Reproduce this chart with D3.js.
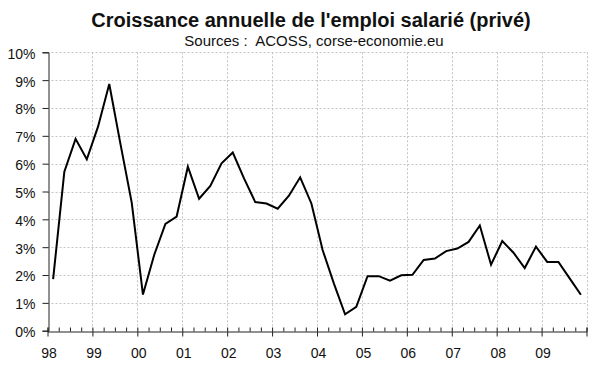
<!DOCTYPE html>
<html>
<head>
<meta charset="utf-8">
<script src="https://cdn.jsdelivr.net/npm/d3@7"></script>
<style>
  html, body { margin: 0; padding: 0; background: #fff; }
  svg { display: block; font-family: "Liberation Sans", Arial, sans-serif; }
</style>
</head>
<body>
<svg id="chart" width="600" height="372"></svg>
<script>
// ---- Data ----
const yearLabels = ["98","99","00","01","02","03","04","05","06","07","08","09"];
const quarters = ["T1","T2","T3","T4"];
const categories = yearLabels.flatMap(y => quarters.map(q => y + q));
const growth = [
  1.85, 5.71, 6.89, 6.16,
  7.33, 8.86, 6.70, 4.60,
  1.30, 2.72, 3.84, 4.10,
  5.89, 4.74, 5.20, 6.01,
  6.40, 5.47, 4.62, 4.57,
  4.38, 4.85, 5.51, 4.57,
  2.90, 1.70, 0.59, 0.86,
  1.96, 1.96, 1.80, 1.99,
  2.01, 2.54, 2.59, 2.86,
  2.95, 3.19, 3.78, 2.37,
  3.22, 2.80, 2.25, 3.02,
  2.47, 2.47, 1.88, 1.29
];
const yTicks = [0,1,2,3,4,5,6,7,8,9,10];
const title = "Croissance annuelle de l'emploi salarié (privé)";
const subtitle = "Sources :  ACOSS, corse-economie.eu";

// ---- Layout ----
const svg = d3.select("#chart");
const mLeft = 47.5, mRight = 586.5, mTop = 52.3, mBottom = 330.7;

const x = d3.scaleBand().domain(categories).range([mLeft, mRight]).padding(0);
const xPos = d3.scaleLinear().domain([0, categories.length]).range([mLeft, mRight]);
const y = d3.scaleLinear().domain([0, 10]).range([mBottom, mTop]);

// Titles
svg.append("text").attr("x", 311).attr("y", 27).attr("text-anchor", "middle")
  .attr("font-size", 20).attr("font-weight", "bold").attr("fill", "#111").text(title);
svg.append("text").attr("x", 314).attr("y", 46).attr("text-anchor", "middle")
  .attr("font-size", 15).attr("fill", "#111").style("white-space", "pre").text(subtitle);

// Gridlines
const grid = svg.append("g").attr("stroke", "#c4c4c4").attr("stroke-width", 1).attr("stroke-dasharray", "2,2");
grid.selectAll("line.h").data(yTicks.filter(d => d > 0)).join("line")
  .attr("x1", mLeft).attr("x2", mRight)
  .attr("y1", d => Math.round(y(d)) + 0.5).attr("y2", d => Math.round(y(d)) + 0.5);
const yearIdx = d3.range(1, yearLabels.length + 1).map(i => i * 4);
grid.selectAll("line.v").data(yearIdx).join("line")
  .attr("x1", d => Math.round(xPos(d)) + 0.5).attr("x2", d => Math.round(xPos(d)) + 0.5)
  .attr("y1", mTop).attr("y2", mBottom);

// Y axis
const yAxis = svg.append("g").attr("transform", `translate(${Math.round(mLeft)+0.5},0)`)
  .call(d3.axisLeft(y).tickValues(yTicks).tickFormat(d => d + "%").tickSize(6).tickPadding(7));
yAxis.selectAll("text").attr("font-size", 14).attr("fill", "#111").attr("dy", "0.42em")
  .attr("font-family", "Liberation Sans, Arial, sans-serif");
yAxis.selectAll("line, path").attr("stroke", "#222");

// X axis: minor (quarter) ticks inward, major (year) ticks outward
const xMinor = svg.append("g").attr("transform", `translate(0,${Math.round(mBottom)+0.5})`)
  .call(d3.axisBottom(xPos).tickValues(d3.range(0, categories.length + 1)).tickSize(-4).tickFormat(""));
xMinor.selectAll("line, path").attr("stroke", "#222");
const xMajor = svg.append("g").attr("transform", `translate(0,${Math.round(mBottom)+0.5})`)
  .call(d3.axisBottom(xPos).tickValues(d3.range(0, categories.length + 1, 4))
    .tickSize(5).tickPadding(12).tickFormat(d => yearLabels[d / 4] || ""));
xMajor.select("path").remove();
xMajor.selectAll("line").attr("stroke", "#222");
xMajor.selectAll("text").attr("font-size", 14).attr("fill", "#111").attr("dx", "1")
  .attr("font-family", "Liberation Sans, Arial, sans-serif");

// Line
const line = d3.line()
  .x((d, i) => x(categories[i]) + x.bandwidth() / 2)
  .y(d => y(d));
svg.append("path").datum(growth)
  .attr("fill", "none").attr("stroke", "#000").attr("stroke-width", 2)
  .attr("stroke-linejoin", "miter").attr("d", line);
</script>
</body>
</html>
